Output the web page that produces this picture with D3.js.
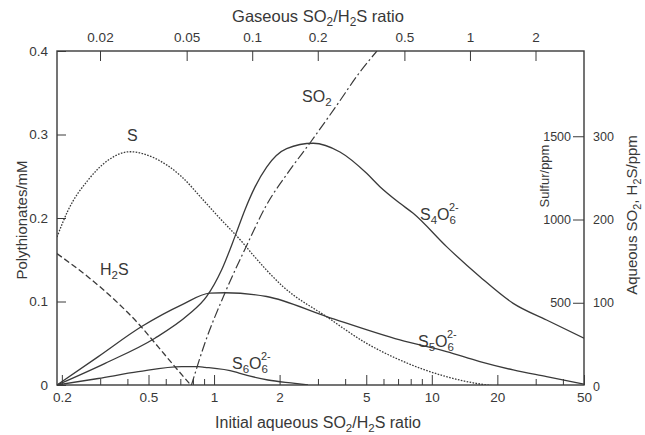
<!DOCTYPE html>
<html><head><meta charset="utf-8">
<script src="https://cdn.jsdelivr.net/npm/d3@7"></script>
<style>
body{margin:0;background:#fff}
svg{display:block}
text{font-family:"Liberation Sans",Arial,Helvetica,sans-serif;fill:#383838}
</style>
</head><body>
<svg id="c" width="645" height="435"></svg>
<script>
// ---- tick labels ----
const bottomTicks = [0.2, 0.5, 1, 2, 5, 10, 20, 50];
const bottomMinor = [0.3, 0.4, 0.6, 0.7, 0.8, 0.9, 3, 4, 6, 7, 8, 9, 30, 40];
const topTicks = [0.02, 0.05, 0.1, 0.2, 0.5, 1, 2];
const leftTicks = [0, 0.1, 0.2, 0.3, 0.4];
const sulfurTicks = [500, 1000, 1500];
const aqTicks = [0, 100, 200, 300];
const gasFactor = 0.0668; // gaseous ratio = aqueous ratio * factor

// ---- series (x = initial aqueous SO2/H2S ratio) ----
// Polythionates, mM
const s4Ratio = [0.19, 0.316, 0.535, 0.761, 0.925, 1.084, 1.248, 1.387, 1.541, 1.744, 2.155, 2.856, 3.786, 5.02, 5.778, 7.14, 8.215, 11.69, 16.63, 23.65, 33.66, 50];
const s4Conc  = [0, 0.026, 0.056, 0.084, 0.106, 0.138, 0.178, 0.21, 0.237, 0.261, 0.283, 0.2895, 0.279, 0.2535, 0.2375, 0.2176, 0.2056, 0.1657, 0.1297, 0.0978, 0.0778, 0.056];
const s5Ratio = [0.19, 0.294, 0.465, 0.71, 0.958, 1.122, 1.744, 3.289, 7.14, 11.69, 16.63, 23.65, 33.66, 50];
const s5Conc  = [0, 0.034, 0.07, 0.096, 0.11, 0.1105, 0.106, 0.082, 0.054, 0.04, 0.028, 0.018, 0.01, 0.001];
const s6Ratio = [0.19, 0.294, 0.449, 0.71, 0.847, 0.908, 1.248, 1.315, 1.768, 2.352, 2.7];
const s6Conc  = [0, 0.0078, 0.0159, 0.0219, 0.0219, 0.0212, 0.0158, 0.014, 0.006, 0.002, 0];
// Elemental sulfur, ppm
const sRatio = [0.19, 0.214, 0.264, 0.327, 0.411, 0.535, 0.71, 0.892, 1.046, 1.362, 1.488, 2.079, 3.289, 5.02, 7.14, 11.69, 16.63, 19.5];
const sPpm   = [895, 1057, 1237, 1357, 1407, 1368, 1257, 1117, 1017, 857, 797, 596, 416, 256, 156, 56, 12, 0];
// Aqueous H2S and SO2, ppm
const h2sRatio = [0.19, 0.264, 0.351, 0.449, 0.554, 0.662, 0.775, 0.79];
const h2sPpm   = [159, 131, 103, 75, 47, 23, 2.4, 0];
const so2Ratio = [0.785, 0.908, 1.122, 1.416, 1.731, 2.231, 2.757, 3.667, 4.678, 5.597];
const so2Ppm   = [0, 51.7, 111.7, 169.4, 216.2, 259.5, 291.9, 337.5, 377.2, 402.4];

// ---- layout ----
const L = 57, R = 584, T = 51, B = 385;
const ink = "#3a3a3a";
const svg = d3.select("#c");

const x = d3.scaleLog().domain([0.19, 50]).range([L, R]);
const xTop = d3.scaleLog().domain([0.19 * gasFactor, 50 * gasFactor]).range([L, R]);
const yL = d3.scaleLinear().domain([0, 0.4]).range([B, T]);
const yS = d3.scaleLinear().domain([0, 2000]).range([B + 1, T + 2]);
const yA = d3.scaleLinear().domain([0, 400]).range([B + 1, T + 2]);

svg.append("defs").append("clipPath").attr("id", "clip")
  .append("rect").attr("x", L).attr("y", T).attr("width", R - L).attr("height", B - T);

// frame
svg.append("rect").attr("x", L).attr("y", T).attr("width", R - L).attr("height", B - T)
  .attr("fill", "none").attr("stroke", ink).attr("stroke-width", 1.4);

// bottom axis (ticks inward)
const bAxis = svg.append("g").attr("transform", `translate(0,${B})`)
  .call(d3.axisBottom(x).tickValues(bottomTicks).tickSizeInner(-10).tickSizeOuter(0).tickPadding(7).tickFormat(d3.format("~g")));
const bMinor = svg.append("g").attr("transform", `translate(0,${B})`)
  .call(d3.axisBottom(x).tickValues(bottomMinor).tickSizeInner(-6).tickSizeOuter(0).tickFormat(""));
// top axis (gaseous ratio)
const tAxis = svg.append("g").attr("transform", `translate(0,${T})`)
  .call(d3.axisTop(xTop).tickValues(topTicks).tickSizeInner(-10).tickSizeOuter(0).tickPadding(9).tickFormat(d3.format("~g")));
// left axis
const lAxis = svg.append("g").attr("transform", `translate(${L},0)`)
  .call(d3.axisLeft(yL).tickValues(leftTicks).tickSizeInner(-9).tickSizeOuter(0).tickPadding(9).tickFormat(d3.format("~g")));
// right inner sulfur axis (labels inside)
const sAxis = svg.append("g").attr("transform", `translate(${R},0)`)
  .call(d3.axisLeft(yS).tickValues(sulfurTicks).tickSizeInner(11).tickSizeOuter(0).tickPadding(2).tickFormat(d3.format("d")));
// right outer aqueous axis
const aAxis = svg.append("g").attr("transform", `translate(${R},0)`)
  .call(d3.axisRight(yA).tickValues(aqTicks).tickSizeInner(0).tickSizeOuter(0).tickPadding(9).tickFormat(d3.format("d")));

[bAxis, bMinor, tAxis, lAxis, sAxis, aAxis].forEach(g => {
  g.select(".domain").remove();
  g.selectAll("line").attr("stroke", ink).attr("stroke-width", 1);
  g.selectAll("text").attr("fill", ink).style("font-family", '"Liberation Sans",Arial,sans-serif');
});
[bAxis, tAxis, lAxis].forEach(g => g.selectAll("text").style("font-size", "13.5px"));
[sAxis, aAxis].forEach(g => g.selectAll("text").style("font-size", "12.5px"));

// ---- curves ----
const plot = svg.append("g").attr("clip-path", "url(#clip)");
function draw(xs, ys, yScale, dash, w) {
  const pts = xs.map((d, i) => [d, ys[i]]);
  const line = d3.line().x(d => x(d[0])).y(d => yScale(d[1])).curve(d3.curveMonotoneX);
  plot.append("path").datum(pts).attr("d", line).attr("fill", "none")
    .attr("stroke", ink).attr("stroke-width", w).attr("stroke-dasharray", dash)
    .attr("stroke-linecap", "butt");
}
draw(s4Ratio, s4Conc, yL, null, 1.3);
draw(s5Ratio, s5Conc, yL, null, 1.3);
draw(s6Ratio, s6Conc, yL, null, 1.3);
draw(sRatio, sPpm, yS, "1.6,1.4", 1.3);
draw(h2sRatio, h2sPpm, yA, "6,3", 1.3);
draw(so2Ratio, so2Ppm, yA, "10,3,2,3", 1.2);

// ---- labels with sub/superscripts ----
function chem(xp, yp, parts, size, anchor) {
  const t = svg.append("text").attr("x", xp).attr("y", yp)
    .style("font-size", size + "px").attr("text-anchor", anchor || "start");
  let shift = 0;
  parts.forEach(p => {
    const s = t.append("tspan").text(p.t);
    let target = 0;
    if (p.sub) { target = size * 0.25; s.style("font-size", (size * 0.72) + "px"); }
    if (p.sup) { target = -size * 0.55; s.style("font-size", (size * 0.68) + "px"); }
    s.attr("dy", target - shift);
    if (p.dx) s.attr("dx", p.dx);
    shift = target;
  });
  return t;
}
function ion(xp, yp, n) {
  return chem(xp, yp, [{t: "S"}, {t: n, sub: true}, {t: "O"}, {t: "6", sub: true}, {t: "2-", sup: true, dx: -7}], 16);
}
chem(318, 22, [{t: "Gaseous SO"}, {t: "2", sub: true}, {t: "/H"}, {t: "2", sub: true}, {t: "S ratio"}], 16.5, "middle");
chem(318, 428, [{t: "Initial aqueous SO"}, {t: "2", sub: true}, {t: "/H"}, {t: "2", sub: true}, {t: "S  ratio"}], 16, "middle");

chem(127, 141, [{t: "S"}], 16);
chem(100, 275, [{t: "H"}, {t: "2", sub: true}, {t: "S"}], 16);
chem(302, 102, [{t: "SO"}, {t: "2", sub: true}], 16);
ion(420, 220, "4");
ion(418, 347, "5");
ion(232, 369, "6");

// rotated axis titles
svg.append("text").attr("transform", "translate(27,220) rotate(-90)")
  .attr("text-anchor", "middle").style("font-size", "15px").text("Polythionates/mM");
svg.append("text").attr("transform", "translate(549,176) rotate(-90)")
  .attr("text-anchor", "middle").style("font-size", "13px").text("Sulfur/ppm");
const aq = chem(0, 0, [{t: "Aqueous SO"}, {t: "2", sub: true}, {t: ", H"}, {t: "2", sub: true}, {t: "S/ppm"}], 15, "middle");
aq.attr("transform", "translate(637,215) rotate(-90)");
</script>
</body></html>
